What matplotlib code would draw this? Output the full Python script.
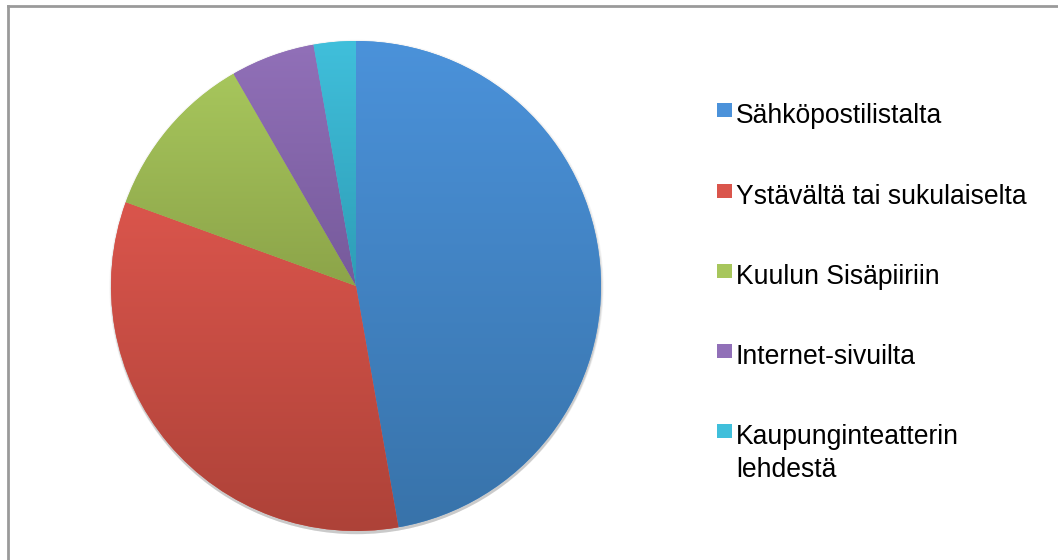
import numpy as np
import matplotlib.pyplot as plt
from matplotlib.patches import Rectangle, Circle
from matplotlib.colors import LinearSegmentedColormap

# Data
labels = ['Sähköpostilistalta', 'Ystävältä tai sukulaiselta', 'Kuulun Sisäpiiriin',
          'Internet-sivuilta', 'Kaupunginteatterin\nlehdestä']
counts = [17, 12, 4, 2, 1]
top_colors = ['#4b92da', '#da554c', '#a7c65c', '#9170b8', '#40bfdb']
bottom_colors = ['#3873aa', '#ad4238', '#8ca449', '#765a9b', '#2e9db6']

W, H = 1058, 560
fig = plt.figure(figsize=(W / 100, H / 100), dpi=100)
fig.patch.set_facecolor('white')

# pie axes: centre (356, 286) px, radius 245 px
cx, cy, r = 356, 286, 245
ax = fig.add_axes([(cx - r) / W, (H - cy - r) / H, 2 * r / W, 2 * r / H])
ax.set_xlim(-1, 1)
ax.set_ylim(-1, 1)
ax.set_aspect('equal')
ax.axis('off')

# soft shadow, mostly below the pie
for i, a in enumerate([0.04, 0.05, 0.06, 0.07]):
    ax.add_patch(Circle((0.002, -0.004 - 0.003 * i), 1.0 + 0.003 * (3 - i),
                        color='black', alpha=a, lw=0, zorder=0, clip_on=False))

wedges, _ = ax.pie(counts, startangle=90, counterclock=False, radius=1.0,
                   colors=top_colors, wedgeprops=dict(linewidth=0, clip_on=False))

# vertical gradient inside each slice
grad = np.linspace(0, 1, 256).reshape(-1, 1)
for w, c1, c2 in zip(wedges, top_colors, bottom_colors):
    cmap = LinearSegmentedColormap.from_list('g', [c1, c2])
    verts = w.get_path().vertices
    xs, ys = verts[:, 0], verts[:, 1]
    im = ax.imshow(grad, cmap=cmap, aspect='auto', origin='upper',
                   extent=[xs.min(), xs.max(), ys.min(), ys.max()], zorder=2,
                   interpolation='bilinear')
    im.set_clip_path(w)
ax.set_xlim(-1, 1)
ax.set_ylim(-1, 1)

# legend drawn by hand
marker_top = [103, 184, 264, 344, 424]
for lab, c1, yy in zip(labels, top_colors, marker_top):
    fig.patches.append(Rectangle((717 / W, (H - yy - 14) / H), 15 / W, 14 / H,
                                 transform=fig.transFigure, facecolor=c1,
                                 edgecolor='none'))
    for k, line in enumerate(lab.split('\n')):
        base = yy + 20 + 33 * k
        fig.text(736 / W, (H - base) / H, line, fontsize=19.1, family='Liberation Sans',
                 va='baseline', ha='left', color='black')

# border (top and left only visible)
fig.add_artist(plt.Line2D([8 / W, 8 / W], [0, (H - 6) / H], transform=fig.transFigure,
                          color='#9a9a9a', lw=2))
fig.add_artist(plt.Line2D([8 / W, 1], [(H - 6) / H, (H - 6) / H], transform=fig.transFigure,
                          color='#9a9a9a', lw=2))

fig.savefig('out.png', dpi=100, facecolor='white')
